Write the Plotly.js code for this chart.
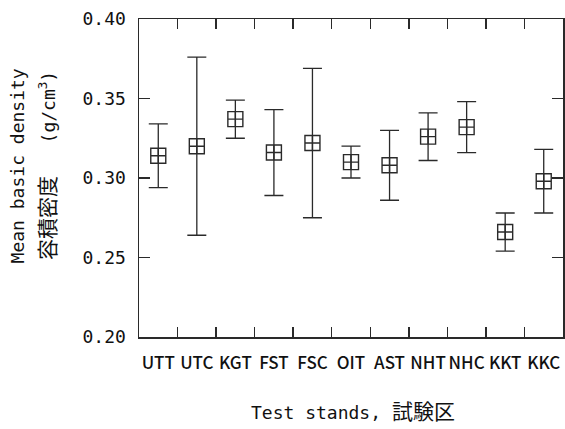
<!DOCTYPE html>
<html>
<head>
<meta charset="utf-8">
<script src="https://cdn.plot.ly/plotly-3.0.1.min.js"></script>
<style>
  html, body { margin: 0; padding: 0; background: #fff; }
  #chart { width: 565px; height: 429px; }
</style>
</head>
<body>
<div id="chart"></div>
<script>
// Test stands
const stands = ["UTT", "UTC", "KGT", "FST", "FSC", "OIT", "AST", "NHT", "NHC", "KKT", "KKC"];
// Mean basic density (g/cm3)
const meanDensity = [0.314, 0.320, 0.337, 0.316, 0.322, 0.310, 0.308, 0.326, 0.332, 0.266, 0.298];
// Upper and lower ends of the error bars
const upperDensity = [0.334, 0.376, 0.349, 0.343, 0.369, 0.320, 0.330, 0.341, 0.348, 0.278, 0.318];
const lowerDensity = [0.294, 0.264, 0.325, 0.289, 0.275, 0.300, 0.286, 0.311, 0.316, 0.254, 0.278];
// Y axis ticks
const yTicks = [0.20, 0.25, 0.30, 0.35, 0.40];
const yTickText = ["0.20", "0.25", "0.30", "0.35", "0.40"];

const errPlus = upperDensity.map((u, i) => u - meanDensity[i]);
const errMinus = lowerDensity.map((l, i) => meanDensity[i] - l);

const ink = "#2a2a2a";
const mono = "DejaVu Sans Mono, Liberation Mono, Noto Sans CJK JP, monospace";
const narrow = "Noto Sans CJK JP, Roboto, sans-serif";

const trace = {
  type: "scatter",
  mode: "markers",
  x: stands,
  y: meanDensity,
  marker: {
    symbol: "square-cross-open",
    size: 15,
    color: ink,
    line: { color: ink, width: 1.4 }
  },
  error_y: {
    type: "data",
    symmetric: false,
    array: errPlus,
    arrayminus: errMinus,
    color: ink,
    thickness: 1.3,
    width: 9.5
  },
  hoverinfo: "skip",
  showlegend: false
};

const layout = {
  width: 565,
  height: 429,
  margin: { l: 139, r: 2, t: 19, b: 92 },
  paper_bgcolor: "#fff",
  plot_bgcolor: "#fff",
  showlegend: false,
  xaxis: {
    type: "category",
    range: [-0.5, 10.5],
    tickson: "boundaries",
    ticks: "inside",
    ticklen: 10,
    tickwidth: 1.5,
    tickcolor: ink,
    showline: true,
    linecolor: ink,
    linewidth: 1.5,
    mirror: "allticks",
    showgrid: false,
    zeroline: false,
    tickangle: 0,
    ticklabelstandoff: 10,
    tickfont: { family: narrow, size: 17, color: "#111", weight: 500 }
  },
  yaxis: {
    range: [0.20, 0.40],
    tickvals: yTicks,
    ticktext: yTickText,
    ticks: "inside",
    ticklen: 11,
    tickwidth: 1.5,
    tickcolor: ink,
    showline: true,
    linecolor: ink,
    linewidth: 1.5,
    mirror: "allticks",
    showgrid: false,
    zeroline: false,
    ticklabelstandoff: 8,
    tickfont: { family: mono, size: 18, color: "#111" }
  },
  annotations: [
    {
      xref: "paper", yref: "paper",
      x: -0.2866, y: 0.538,
      xanchor: "center", yanchor: "middle",
      textangle: -90,
      showarrow: false,
      text: "Mean basic density",
      font: { family: mono, size: 18, color: "#111" }
    },
    {
      xref: "paper", yref: "paper",
      x: -0.2146, y: 0.538,
      xanchor: "center", yanchor: "middle",
      textangle: -90,
      showarrow: false,
      text: "<span style=\"font-size:21px\">容積密度</span>\u00a0\u00a0\u00a0(g/cm<sup>3</sup>)",
      font: { family: mono, size: 18, color: "#111" }
    },
    {
      xref: "paper", yref: "paper",
      x: 0.505, y: -0.236,
      xanchor: "center", yanchor: "middle",
      showarrow: false,
      text: "Test stands,\u00a0<span style=\"font-size:21px\">試験区</span>",
      font: { family: mono, size: 18, color: "#111" }
    }
  ]
};

Plotly.newPlot("chart", [trace], layout, { staticPlot: true, displayModeBar: false });
</script>
</body>
</html>
